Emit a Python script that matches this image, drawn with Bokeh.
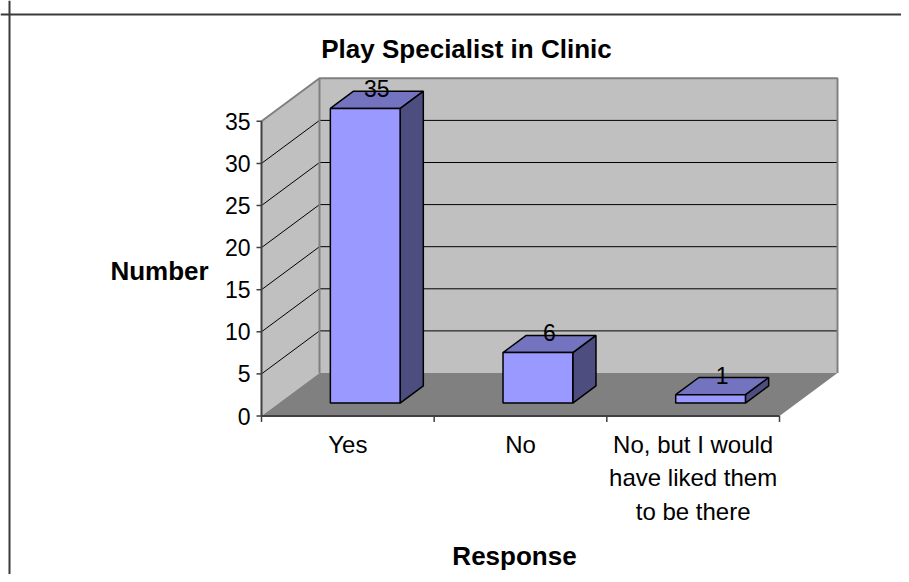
from bokeh.plotting import figure
from bokeh.models import Range1d, Label, Span, ColumnDataSource
from bokeh.core.properties import value
from bokeh.embed import file_html
from bokeh.resources import INLINE

# ---------------- data ----------------
categories = ["Yes", "No", "No, but I would\nhave liked them\nto be there"]
counts = [35, 6, 1]
y_ticks = [0, 5, 10, 15, 20, 25, 30, 35]
y_tick_labels = ["0", "5", "10", "15", "20", "25", "30", "35"]
chart_title = "Play Specialist in Clinic"
x_title = "Response"
y_title = "Number"

# ---------------- layout / style ----------------
W, H = 901, 574
ORIG_X, ORIG_Y = 261.0, 415.5        # canvas px of front axis origin
KX = 518.0 / 3                       # px per category
KY = 294.7 / 35                      # px per unit value
DX = 58.0 / KX                       # depth offset in x units
DY = 43.0 / KY                       # depth offset in value units
YMAX = y_ticks[-1]
N = len(categories)
BAR_W = 0.404
D0, D1 = 0.3, 0.7
FONT = "Liberation Sans"
FS = "23px"
FSC = "24px"
FSB = "26px"

p = figure(width=W, height=H, output_backend="svg", toolbar_location=None,
           x_range=Range1d(-ORIG_X / KX, (W - ORIG_X) / KX),
           y_range=Range1d(-(H - ORIG_Y) / KY, ORIG_Y / KY),
           x_axis_type=None, y_axis_type=None, min_border=0)
p.grid.visible = False
p.outline_line_color = None
p.background_fill_color = "white"
p.border_fill_color = "white"

# chart border (left and top visible)
p.add_layout(Span(location=9, location_units="screen", dimension="height",
                  line_color="#3a3a3a", line_width=2))
p.add_layout(Span(location=H - 14, location_units="screen", dimension="width",
                  line_color="#3a3a3a", line_width=2))

# walls
p.patch([0, 0, DX, DX], [0, YMAX, YMAX + DY, DY], fill_color="#C0C0C0", line_color=None)
p.quad(left=[DX], right=[N + DX], bottom=[DY], top=[YMAX + DY],
       fill_color="#C0C0C0", line_color=None)
p.patch([0, N, N + DX, DX], [0, 0, DY, DY], fill_color="#808080", line_color=None)

# gridlines
grid_vals = [v for v in y_ticks if 0 < v < YMAX]
p.segment(x0=[0] * len(grid_vals), y0=grid_vals,
          x1=[DX] * len(grid_vals), y1=[v + DY for v in grid_vals],
          line_color="black", line_width=1)
p.segment(x0=[DX] * len(grid_vals), y0=[v + DY for v in grid_vals],
          x1=[N + DX] * len(grid_vals), y1=[v + DY for v in grid_vals],
          line_color="black", line_width=1)

# wall outlines
p.line([0, DX, N + DX, N + DX], [YMAX, YMAX + DY, YMAX + DY, DY],
       line_color="#808080", line_width=2)
p.line([DX, DX], [DY, YMAX + DY], line_color="#808080", line_width=2)

# axes lines and ticks
p.line([0, 0], [0, YMAX], line_color="#404040", line_width=2)
p.line([0, N], [0, 0], line_color="#404040", line_width=2)
p.segment(x0=[-5 / KX] * len(y_ticks), y0=y_ticks, x1=[0] * len(y_ticks), y1=y_ticks,
          line_color="#404040", line_width=1.5)
xt = list(range(N + 1))
p.segment(x0=xt, y0=[0] * len(xt), x1=xt, y1=[-6 / KY] * len(xt),
          line_color="#404040", line_width=1.5)

# bars
dd = D1 - D0
for i, v in enumerate(counts):
    l = i + 0.5 - BAR_W / 2 + D0 * DX
    r = l + BAR_W
    b = D0 * DY
    t = v + D0 * DY
    # side
    p.patch([r, r, r + dd * DX, r + dd * DX], [b, t, t + dd * DY, b + dd * DY],
            fill_color="#4D4D80", line_color="black", line_width=1.5)
    # top
    p.patch([l, r, r + dd * DX, l + dd * DX], [t, t, t + dd * DY, t + dd * DY],
            fill_color="#7373BF", line_color="black", line_width=1.5)
    # front
    p.quad(left=[l], right=[r], bottom=[b], top=[t],
           fill_color="#9999FF", line_color="black", line_width=1.5)

# data labels
lab = ColumnDataSource(dict(x=[i + 0.5 + 0.5 * DX for i in range(N)],
                            y=[v + 0.5 * DY for v in counts],
                            t=[str(v) for v in counts]))
p.text(x="x", y="y", text="t", source=lab, text_align="center",
       text_baseline="alphabetic", y_offset=-11,
       text_font=value(FONT), text_font_size=FS, text_color="black")

# y tick labels
p.text(x=[0] * len(y_ticks), y=y_ticks, text=y_tick_labels, x_offset=-11,
       text_align="right", text_baseline="middle",
       text_font=value(FONT), text_font_size=FS, text_color="black")

# category labels
p.text(x=[i + 0.5 for i in range(N)], y=[0] * N, text=categories, y_offset=15,
       text_align="center", text_baseline="top", text_line_height=1.24,
       text_font=value(FONT), text_font_size=FSC, text_color="black")

# titles
p.add_layout(Label(x=466, y=H - 48, x_units="screen", y_units="screen", text=chart_title,
                   text_align="center", text_baseline="middle", text_font=FONT,
                   text_font_size=FSB, text_font_style="bold", text_color="black"))
p.add_layout(Label(x=159, y=H - 270, x_units="screen", y_units="screen", text=y_title,
                   text_align="center", text_baseline="middle", text_font=FONT,
                   text_font_size=FSB, text_font_style="bold", text_color="black"))
p.add_layout(Label(x=514, y=H - 555, x_units="screen", y_units="screen", text=x_title,
                   text_align="center", text_baseline="middle", text_font=FONT,
                   text_font_size=FSB, text_font_style="bold", text_color="black"))

open("out.html", "w").write(file_html(p, INLINE))
